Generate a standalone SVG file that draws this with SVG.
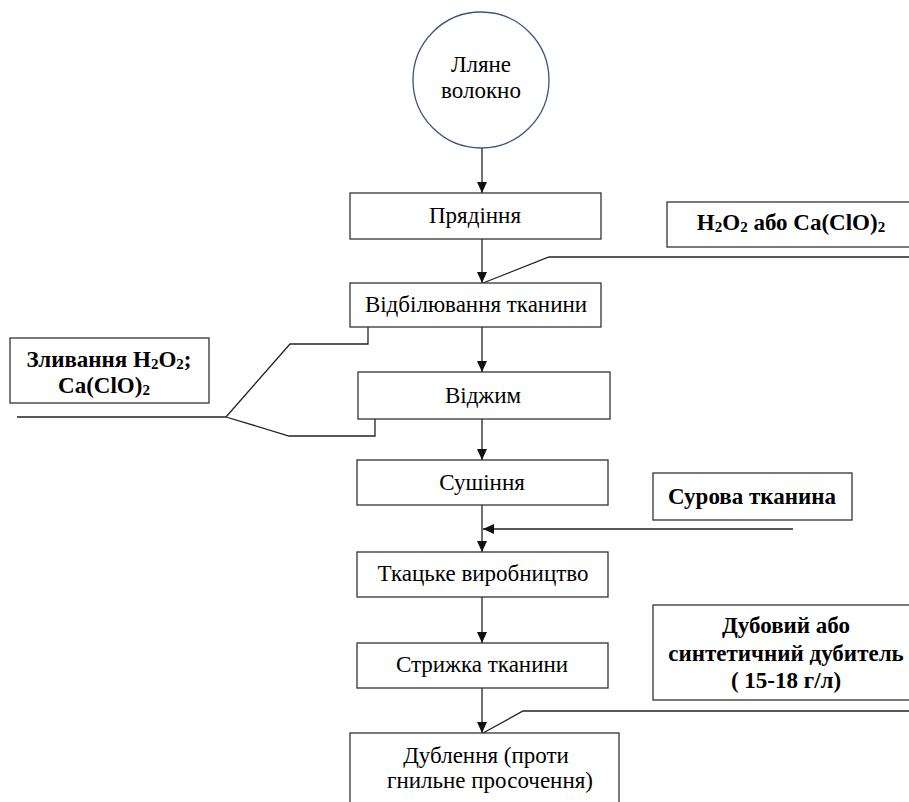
<svg xmlns="http://www.w3.org/2000/svg" width="909" height="802" viewBox="0 0 909 802">
<defs>
<style>
.box{fill:#fff;stroke:#333;stroke-width:1.3}
.t{font-family:'Liberation Serif','Times New Roman',serif;font-size:23px;fill:#000;text-anchor:middle}
.b{font-family:'Liberation Serif','Times New Roman',serif;font-size:23px;font-weight:bold;fill:#000;text-anchor:middle}
.ln{fill:none;stroke:#222;stroke-width:1.3}
.sub{font-size:15px}
</style>
<marker id="ah" viewBox="0 0 11 10" refX="11" refY="5" markerWidth="11" markerHeight="10" markerUnits="userSpaceOnUse" orient="auto">
<path d="M0,0 L11,5 L0,10 Z" fill="#111"/>
</marker>
</defs>
<rect width="909" height="802" fill="#fff"/>
<g id="connectors">
<line class="ln" x1="482" y1="148" x2="482" y2="193" marker-end="url(#ah)"/>
<line class="ln" x1="482" y1="239" x2="482" y2="283" marker-end="url(#ah)"/>
<polyline class="ln" points="909,257 549,257 483,283"/>
<line class="ln" x1="482" y1="327" x2="482" y2="372" marker-end="url(#ah)"/>
<polyline class="ln" points="368,327 368,344 290,344 226,417"/>
<line class="ln" x1="17" y1="417" x2="226" y2="417"/>
<polyline class="ln" points="226,417 289,436 375,436 375,419"/>
<line class="ln" x1="482" y1="419" x2="482" y2="460" marker-end="url(#ah)"/>
<line class="ln" x1="482" y1="505" x2="482" y2="552" marker-end="url(#ah)"/>
<line class="ln" x1="793" y1="529" x2="483" y2="529" marker-end="url(#ah)"/>
<line class="ln" x1="482" y1="597" x2="482" y2="643" marker-end="url(#ah)"/>
<line class="ln" x1="482" y1="688" x2="482" y2="733" marker-end="url(#ah)"/>
<polyline class="ln" points="909,711 523,711 483,733"/>
</g>
<g id="n-flax">
<circle cx="481" cy="80" r="68" fill="#fff" stroke="#3a5485" stroke-width="1.3"/>
<text class="t" x="481" y="72">Лляне</text>
<text class="t" x="481" y="98">волокно</text>
</g>
<g id="n-spinning">
<rect class="box" x="350" y="193" width="251" height="46"/>
<text class="t" x="475" y="223">Прядіння</text>
</g>
<g id="n-bleach-agent">
<rect class="box" x="667" y="202" width="245" height="45"/>
<text class="b" x="791" y="230">H<tspan class="sub" dy="2">2</tspan><tspan dy="-2">O</tspan><tspan class="sub" dy="2">2</tspan><tspan dy="-2"> або Ca(ClO)</tspan><tspan class="sub" dy="2">2</tspan></text>
</g>
<g id="n-bleaching">
<rect class="box" x="350" y="283" width="251" height="44"/>
<text class="t" x="476" y="312">Відбілювання тканини</text>
</g>
<g id="n-drain">
<rect class="box" x="10" y="338" width="199" height="65"/>
<text class="b" x="109" y="367">Зливання H<tspan class="sub" dy="2">2</tspan><tspan dy="-2">O</tspan><tspan class="sub" dy="2">2</tspan><tspan dy="-2">;</tspan></text>
<text class="b" x="104" y="393">Ca(ClO)<tspan class="sub" dy="2">2</tspan></text>
</g>
<g id="n-squeeze">
<rect class="box" x="358" y="372" width="252" height="47"/>
<text class="t" x="483" y="403">Віджим</text>
</g>
<g id="n-drying">
<rect class="box" x="357" y="460" width="251" height="45"/>
<text class="t" x="482" y="490">Сушіння</text>
</g>
<g id="n-raw">
<rect class="box" x="653" y="473" width="199" height="47"/>
<text class="b" x="752" y="504">Сурова тканина</text>
</g>
<g id="n-weaving">
<rect class="box" x="357" y="552" width="251" height="45"/>
<text class="t" x="483" y="581">Ткацьке виробництво</text>
</g>
<g id="n-tanner">
<rect class="box" x="653" y="605" width="264" height="95"/>
<text class="b" x="786" y="633">Дубовий або</text>
<text class="b" x="786" y="661">синтетичний дубитель</text>
<text class="b" x="786" y="688">( 15-18 г/л)</text>
</g>
<g id="n-shearing">
<rect class="box" x="357" y="643" width="251" height="45"/>
<text class="t" x="482" y="672">Стрижка тканини</text>
</g>
<g id="n-tanning">
<rect class="box" x="350" y="733" width="269" height="80"/>
<text class="t" x="486" y="763">Дублення (проти</text>
<text class="t" x="490" y="788">гнильне просочення)</text>
</g>
</svg>
